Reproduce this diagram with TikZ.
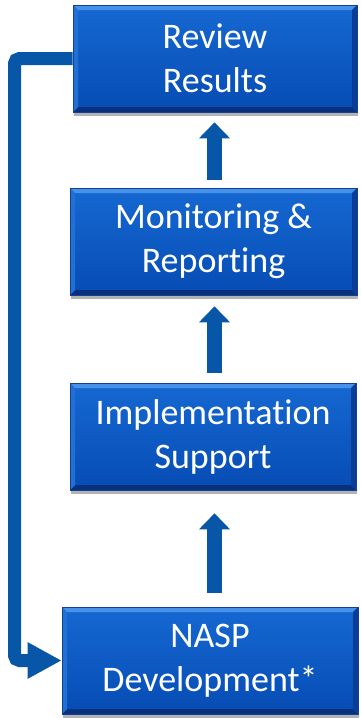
\documentclass[tikz,border=0pt]{standalone}
\usepackage{fontspec}
\setmainfont{Carlito}[Ligatures=NoCommon]
\usetikzlibrary{shadows,arrows.meta,calc}
\definecolor{facetop}{RGB}{22,104,210}
\definecolor{facebot}{RGB}{6,76,180}
\definecolor{bevtop}{RGB}{70,146,232}
\definecolor{bevleft}{RGB}{34,112,212}
\definecolor{bevright}{RGB}{10,62,150}
\definecolor{bevbot}{RGB}{8,48,124}
\definecolor{boxedge}{RGB}{18,66,146}
\definecolor{arrowblue}{RGB}{8,86,168}
\tikzset{
  stepbox/.style={rectangle, inner sep=0pt, minimum height=107pt,
    top color=facetop, bottom color=facebot, draw=boxedge, line width=0.6pt,
    text=white, align=center, font=\fontsize{36}{44}\selectfont,
    drop shadow={shadow xshift=1pt, shadow yshift=-4pt, opacity=0.3, fill=black},
    path picture={
      \coordinate (pNW) at (path picture bounding box.north west);
      \coordinate (pNE) at (path picture bounding box.north east);
      \coordinate (pSW) at (path picture bounding box.south west);
      \coordinate (pSE) at (path picture bounding box.south east);
      \fill[bevtop] (pNW) -- (pNE) -- ([shift={(-5pt,-5pt)}]pNE) -- ([shift={(5pt,-5pt)}]pNW) -- cycle;
      \fill[bevbot] (pSW) -- (pSE) -- ([shift={(-5pt,5pt)}]pSE) -- ([shift={(5pt,5pt)}]pSW) -- cycle;
      \fill[bevleft] (pNW) -- (pSW) -- ([shift={(5pt,5pt)}]pSW) -- ([shift={(5pt,-5pt)}]pNW) -- cycle;
      \fill[bevright] (pNE) -- (pSE) -- ([shift={(-5pt,5pt)}]pSE) -- ([shift={(-5pt,-5pt)}]pNE) -- cycle;
    }},
  blockarrow/.style={draw=arrowblue, line width=15pt, line cap=butt,
    -{Triangle[width=30pt,length=16pt]}},
  loopline/.style={draw=arrowblue, line width=13pt, rounded corners=5pt,
    line cap=butt, -{Triangle[width=34pt,length=34pt]}}
}
\begin{document}
\begin{tikzpicture}[x=1pt,y=-1pt]
\useasboundingbox (0,0) rectangle (360,718);
\node[stepbox, minimum width=284pt] (review) at (215,58.5) {Review\\Results};
\node[stepbox, minimum width=287pt] (monitor) at (213.5,241.5) {Monitoring \&\\Reporting};
\node[stepbox, minimum width=286pt] (impl) at (213,436.5) {Implementation\\Support};
\node[stepbox, minimum width=296pt] (nasp) at (210,660.5) {NASP\\Development*};
\coordinate (ax) at (214.5,0);
\coordinate (lx) at (14.5,0);
\draw[blockarrow, shorten <=8pt, shorten >=10pt] (ax |- monitor.north) -- (ax |- review.south);
\draw[blockarrow, shorten <=10pt, shorten >=11pt] (ax |- impl.north) -- (ax |- monitor.south);
\draw[blockarrow, shorten <=14pt, shorten >=23pt] (ax |- nasp.north) -- (ax |- impl.south);
\draw[loopline] (review.west) -- (lx |- review.west) -- (lx |- nasp.west) -- (nasp.west);
\end{tikzpicture}
\end{document}
